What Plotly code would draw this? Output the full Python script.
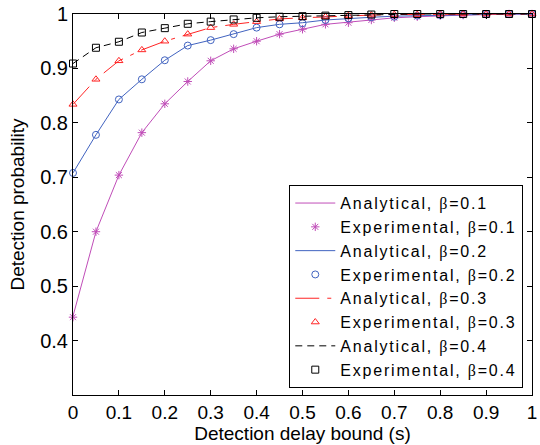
import plotly.graph_objects as go

# Detection delay bound (s)
delay = [0.00, 0.05, 0.10, 0.15, 0.20, 0.25, 0.30, 0.35, 0.40, 0.45, 0.50,
         0.55, 0.60, 0.65, 0.70, 0.75, 0.80, 0.85, 0.90, 0.95, 1.00]

# Detection probability, analytical model
ana_b01 = [0.445, 0.600, 0.704, 0.782, 0.835, 0.876, 0.914, 0.936, 0.950, 0.963, 0.972,
           0.981, 0.985, 0.989, 0.993, 0.995, 0.997, 0.998, 0.999, 0.999, 1.000]
ana_b02 = [0.708, 0.778, 0.843, 0.880, 0.915, 0.942, 0.952, 0.963, 0.975, 0.981, 0.984,
           0.989, 0.992, 0.994, 0.996, 0.997, 0.998, 0.999, 1.000, 1.000, 1.000]
ana_b03 = [0.834, 0.880, 0.914, 0.934, 0.950, 0.963, 0.975, 0.981, 0.986, 0.991, 0.993,
           0.995, 0.997, 0.998, 0.999, 0.999, 1.000, 1.000, 1.000, 1.000, 1.000]
ana_b04 = [0.909, 0.938, 0.949, 0.966, 0.974, 0.982, 0.986, 0.990, 0.993, 0.995, 0.996,
           0.997, 0.998, 0.999, 1.000, 1.000, 1.000, 1.000, 1.000, 1.000, 1.000]

# Detection probability, experiments
exp_b01 = [0.443, 0.600, 0.704, 0.782, 0.835, 0.876, 0.914, 0.936, 0.950, 0.963, 0.972,
           0.981, 0.984, 0.989, 0.993, 0.995, 0.997, 0.998, 0.999, 1.000, 1.000]
exp_b02 = [0.708, 0.778, 0.843, 0.880, 0.915, 0.942, 0.952, 0.963, 0.975, 0.981, 0.983,
           0.989, 0.992, 0.994, 0.995, 0.997, 0.998, 0.999, 1.000, 1.000, 1.000]
exp_b03 = [0.834, 0.880, 0.914, 0.934, 0.950, 0.963, 0.975, 0.981, 0.986, 0.991, 0.993,
           0.995, 0.997, 0.998, 0.999, 0.999, 1.000, 1.000, 1.000, 1.000, 1.000]
exp_b04 = [0.909, 0.938, 0.949, 0.966, 0.974, 0.982, 0.986, 0.990, 0.993, 0.995, 0.996,
           0.997, 0.998, 0.999, 1.000, 1.000, 1.000, 1.000, 1.000, 1.000, 1.000]

betas = ["0.1", "0.2", "0.3", "0.4"]
x_ticks = [0, 0.1, 0.2, 0.3, 0.4, 0.5, 0.6, 0.7, 0.8, 0.9, 1]
x_ticklabels = ["0", "0.1", "0.2", "0.3", "0.4", "0.5", "0.6", "0.7", "0.8", "0.9", "1"]
y_ticks = [0.4, 0.5, 0.6, 0.7, 0.8, 0.9, 1]
y_ticklabels = ["0.4", "0.5", "0.6", "0.7", "0.8", "0.9", "1"]

colors = ["#c04db8", "#4163c0", "#ff2424", "#000000"]
dashes = ["solid", "solid", "24px,8px,4px,8px", "7px,5px"]
symbols = ["asterisk-open", "circle-open", "triangle-up-open", "square-open"]
analytical = [ana_b01, ana_b02, ana_b03, ana_b04]
experimental = [exp_b01, exp_b02, exp_b03, exp_b04]

SANS = "Liberation Sans, Arial, sans-serif"


def legend_label(kind, beta):
    # slightly widened lettering, Greek beta set in a serif face
    return (f'<span style="letter-spacing:1.8px">{kind}, '
            f'<span style="font-family:Liberation Serif, Times New Roman, serif">β</span>'
            f'={beta}</span>')


fig = go.Figure()
for b, c, d, s, ya, ye in zip(betas, colors, dashes, symbols, analytical, experimental):
    fig.add_trace(go.Scatter(
        x=delay, y=ya, mode="lines",
        line=dict(color=c, width=1, dash=d),
        name=legend_label("Analytical", b), cliponaxis=False,
    ))
    fig.add_trace(go.Scatter(
        x=delay, y=ye, mode="markers",
        marker=dict(symbol=s, size=7, color=c, line=dict(color=c, width=1)),
        name=legend_label("Experimental", b), cliponaxis=False,
    ))

axis_common = dict(
    showline=True, linecolor="black", linewidth=1, mirror="ticks",
    ticks="inside", ticklen=5, tickcolor="black", tickwidth=1,
    showgrid=False, zeroline=False,
)

fig.update_layout(
    width=540, height=445,
    margin=dict(l=73, r=3, t=14, b=50),
    paper_bgcolor="white", plot_bgcolor="white",
    font=dict(family=SANS, size=19, color="black"),
    xaxis=dict(range=[0, 1], tickvals=x_ticks, ticktext=x_ticklabels,
               ticklabeloverflow="allow",
               tickfont=dict(family=SANS, size=19, color="black"),
               title=dict(text="Detection delay bound (s)", standoff=0,
                          font=dict(family=SANS, size=19)),
               **axis_common),
    yaxis=dict(range=[0.3, 1], tickvals=y_ticks, ticktext=y_ticklabels,
               tickfont=dict(family=SANS, size=20, color="black"),
               title=dict(text="Detection probability", standoff=10,
                          font=dict(family=SANS, size=19)),
               **axis_common),
    legend=dict(
        x=0.981, y=0.018, xanchor="right", yanchor="bottom",
        bgcolor="white", bordercolor="black", borderwidth=1,
        font=dict(family=SANS, size=16, color="black"),
        itemwidth=40, tracegroupgap=0,
    ),
    showlegend=True,
)

fig.write_html("out.html")
